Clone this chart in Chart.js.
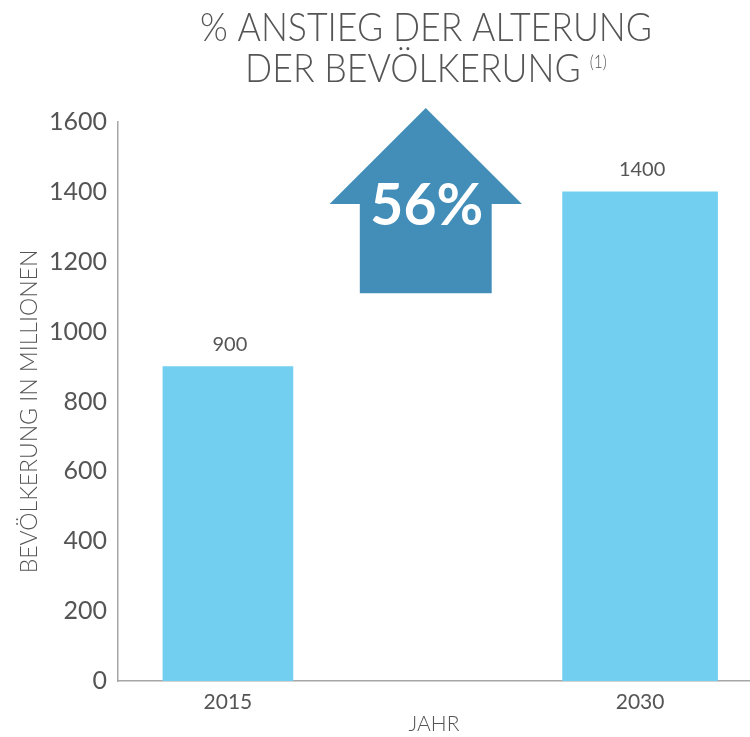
<!DOCTYPE html>
<html>
<head>
<meta charset="utf-8">
<script src="https://cdn.jsdelivr.net/npm/chart.js@4/dist/chart.umd.min.js"></script>
<style>
  html, body { margin: 0; padding: 0; background: #fff; }
  #wrap { width: 750px; height: 737px; }
</style>
</head>
<body>
<div id="wrap"><canvas id="chart"></canvas></div>
<script>
// ---- data ----
const years = [2015, 2030];
const population = [900, 1400];
const yTicks = [0, 200, 400, 600, 800, 1000, 1200, 1400, 1600];
const titleLines = ['% ANSTIEG DER ALTERUNG', 'DER BEVÖLKERUNG'];
const footnote = '(1)';
const yTitle = 'BEVÖLKERUNG IN MILLIONEN';
const xTitle = 'JAHR';
const increaseLabel = '56%';
// arrow: shaft bottom, head base, tip (in y units) and centre/half widths (in x units)
const arrowLevels = [1110, 1365, 1640];
const arrowCenter = 2022.2;
const arrowHeadHalf = 3.5;
const arrowShaftHalf = 2.4;

const GREY = '#555555';
const AXIS = '#a6a6a6';
const FONT = 'Lato, "Open Sans", sans-serif';

// -------------------------
// TITLE + ARROW + VALUE LABELS
// -------------------------
const extras = {
  id: 'extras',
  afterDatasetsDraw(chart) {
    const ctx = chart.ctx;
    const x = chart.scales.x;
    const y = chart.scales.y;

    // big arrow
    const cx = x.getPixelForValue(arrowCenter);
    const hw = x.getPixelForValue(arrowCenter + arrowHeadHalf) - cx;
    const sw = x.getPixelForValue(arrowCenter + arrowShaftHalf) - cx;
    const yBot = y.getPixelForValue(arrowLevels[0]);
    const yBase = y.getPixelForValue(arrowLevels[1]);
    const yTip = y.getPixelForValue(arrowLevels[2]);
    ctx.save();
    ctx.fillStyle = '#438eb9';
    ctx.beginPath();
    ctx.moveTo(cx, yTip);
    ctx.lineTo(cx + hw, yBase);
    ctx.lineTo(cx + sw, yBase);
    ctx.lineTo(cx + sw, yBot);
    ctx.lineTo(cx - sw, yBot);
    ctx.lineTo(cx - sw, yBase);
    ctx.lineTo(cx - hw, yBase);
    ctx.closePath();
    ctx.fill();

    ctx.fillStyle = '#ffffff';
    ctx.font = 'bold 57px ' + FONT;
    ctx.textAlign = 'center';
    ctx.textBaseline = 'alphabetic';
    ctx.fillText(increaseLabel, cx + 1, yBase + 21);

    // bar value labels
    ctx.fillStyle = GREY;
    ctx.font = '20px ' + FONT;
    chart.data.datasets.forEach((ds, i) => {
      const bar = chart.getDatasetMeta(i).data[0];
      ctx.fillText(String(ds.data[0].y), bar.x + 2, bar.y - 16);
    });

    // y axis title (rotated)
    ctx.save();
    ctx.translate(37, (y.top + y.bottom) / 2 + 10);
    ctx.rotate(-Math.PI / 2);
    ctx.font = '300 23px ' + FONT;
    ctx.fillText(yTitle, 0, 0);
    ctx.restore();

    // title
    const tx = 426;
    ctx.font = '300 39px ' + FONT;
    ctx.textAlign = 'left';
    const w1 = ctx.measureText(titleLines[0]).width;
    const sx = 452 / w1;
    ctx.save();
    ctx.translate(tx, 0);
    ctx.scale(sx, 1);
    ctx.fillText(titleLines[0], -w1 / 2, 41);
    ctx.restore();

    const w2 = ctx.measureText(titleLines[1]).width;
    ctx.font = '300 17px ' + FONT;
    const wf = ctx.measureText(footnote).width;
    const total = (w2 + 10 + wf) * sx;
    const start = tx - total / 2;
    ctx.save();
    ctx.translate(start, 0);
    ctx.scale(sx, 1);
    ctx.font = '300 39px ' + FONT;
    ctx.fillText(titleLines[1], 0, 82);
    ctx.font = '300 17px ' + FONT;
    ctx.fillText(footnote, w2 + 10, 68);
    ctx.restore();
    ctx.restore();
  }
};

// -------------------------
// INIT CHART
// -------------------------
const ctx = document.getElementById('chart').getContext('2d');

new Chart(ctx, {
  type: 'bar',
  data: {
    datasets: [
      {
        data: [{ x: years[0], y: population[0] }],
        backgroundColor: '#72cfef',
        barThickness: 130,
        grouped: false
      },
      {
        data: [{ x: years[1], y: population[1] }],
        backgroundColor: '#72cfef',
        barThickness: 155,
        grouped: false
      }
    ]
  },
  options: {
    responsive: true,
    maintainAspectRatio: false,
    animation: false,
    layout: { padding: { top: 122, left: 12, right: 0, bottom: 0 } },
    plugins: {
      legend: { display: false },
      tooltip: { enabled: false },
      title: { display: false }
    },
    scales: {
      x: {
        type: 'linear',
        min: 2011,
        max: 2034,
        offset: false,
        afterBuildTicks(scale) {
          scale.ticks = years.map(v => ({ value: v }));
        },
        afterFit(scale) { scale.height = 56; },
        grid: { display: false, drawTicks: false },
        border: { display: true, color: AXIS, width: 1.5 },
        ticks: {
          color: GREY,
          font: { family: FONT, size: 21 },
          padding: 9,
          callback: v => String(v)
        },
        title: {
          display: true,
          text: xTitle,
          color: GREY,
          font: { family: FONT, size: 21, weight: 300 },
          padding: { top: 0, bottom: 0 }
        }
      },
      y: {
        min: 0,
        max: 1600,
        afterBuildTicks(scale) {
          scale.ticks = yTicks.map(v => ({ value: v }));
        },
        afterFit(scale) { scale.width = 106; },
        grid: { display: false, drawTicks: false },
        border: { display: true, color: AXIS, width: 1.5 },
        ticks: {
          color: GREY,
          font: { family: FONT, size: 25 },
          padding: 11,
          callback: v => String(v)
        },
        title: { display: false }
      }
    }
  },
  plugins: [extras]
});
</script>
</body>
</html>
